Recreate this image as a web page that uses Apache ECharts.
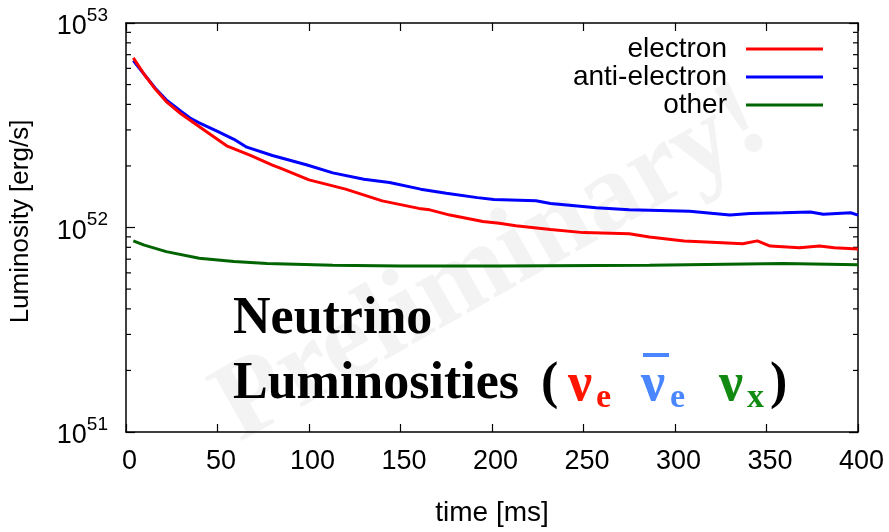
<!DOCTYPE html>
<html>
<head>
<meta charset="utf-8">
<script src="https://cdn.jsdelivr.net/npm/echarts@6/dist/echarts.min.js"></script>
<style>
  html, body { margin: 0; padding: 0; background: #fff; }
  #chart { width: 889px; height: 532px; }
</style>
</head>
<body>
<div id="chart"></div>
<script>
// Neutrino luminosities vs. post-bounce time (erg/s)
const electronTime = [4, 10, 16, 22, 30, 37, 45, 55, 68, 80, 85, 100, 120, 140, 160, 166, 177, 186, 195, 204, 213, 232, 250, 275, 286, 305, 323, 337, 345, 352, 368, 379, 387, 400];
const electronLum  = [6.75e52, 5.6e52, 4.75e52, 4.13e52, 3.6e52, 3.25e52, 2.9e52, 2.51e52, 2.25e52, 2.02e52, 1.94e52, 1.71e52, 1.54e52, 1.35e52, 1.24e52, 1.22e52, 1.15e52, 1.11e52, 1.07e52, 1.05e52, 1.02e52, 9.78e51, 9.44e51, 9.33e51, 8.99e51, 8.6e51, 8.45e51, 8.32e51, 8.6e51, 8.11e51, 7.96e51, 8.11e51, 7.96e51, 7.85e51];

const antiTime = [4, 10, 16, 22, 30, 35, 40, 50, 59, 66, 80, 99, 113, 130, 144, 161, 175, 192, 201, 224, 232, 257, 275, 308, 330, 341, 359, 374, 381, 396, 400];
const antiLum  = [6.55e52, 5.6e52, 4.8e52, 4.21e52, 3.7e52, 3.43e52, 3.25e52, 2.95e52, 2.7e52, 2.47e52, 2.25e52, 2.02e52, 1.85e52, 1.72e52, 1.66e52, 1.54e52, 1.47e52, 1.4e52, 1.37e52, 1.35e52, 1.31e52, 1.25e52, 1.22e52, 1.2e52, 1.15e52, 1.17e52, 1.18e52, 1.19e52, 1.16e52, 1.18e52, 1.15e52];

const otherTime = [4, 10, 22, 40, 59, 77, 113, 150, 204, 286, 359, 400];
const otherLum  = [8.6e51, 8.2e51, 7.62e51, 7.08e51, 6.82e51, 6.67e51, 6.53e51, 6.48e51, 6.48e51, 6.53e51, 6.66e51, 6.58e51];

const decades = [1e51, 1e52];
const mantissas = [2, 3, 4, 5, 6, 7, 8, 9];

const seriesNames = ['electron', 'anti-electron', 'other'];
const seriesColors = ['#ff0000', '#0000ff', '#006400'];

const SANS = '"Liberation Sans", Arial, Helvetica, sans-serif';
const SERIF = '"Liberation Serif", "Times New Roman", serif';

function pairs(ts, vs) { return ts.map((t, i) => [t, vs[i]]); }

const minorTickValues = [];
decades.forEach(d => mantissas.forEach(m => minorTickValues.push([0, m * d])));

const chart = echarts.init(document.getElementById('chart'), null, { renderer: 'canvas' });

const labelRich = {
  b: { fontFamily: SANS, fontSize: 27, color: '#000', lineHeight: 34, padding: [8, 0, 0, 0] },
  s: { fontFamily: SANS, fontSize: 19, color: '#000', verticalAlign: 'top', lineHeight: 20 }
};
function powLabel(v) {
  const e = Math.round(Math.log10(v));
  return '{b|10}{s|' + e + '}';
}

const axisLineStyle = { color: '#000', width: 1.5 };
const tickStyle = { color: '#000', width: 1.2 };

// title pieces: text, x, top, size, colour
function titleText(text, x, y, size, color) {
  return {
    type: 'text', z: 10, x: x, y: y, silent: true,
    style: { text: text, fontFamily: SERIF, fontSize: size, fontWeight: 'bold', fill: color }
  };
}
const RED = '#ff1500', LBLUE = '#4a86ff', GREEN = '#128a12';
const T1 = 294, T2 = 359, SUB = T2 + 22;

chart.setOption({
  animation: false,
  backgroundColor: '#fff',
  grid: { left: 126, right: 31, top: 23, bottom: 91, containLabel: false },
  legend: {
    data: seriesNames,
    orient: 'vertical',
    right: 61,
    top: 30,
    align: 'right',
    icon: 'rect',
    itemWidth: 77,
    itemHeight: 3,
    itemGap: 0,
    textStyle: { fontFamily: SANS, fontSize: 28, color: '#000', padding: [0, 14, 0, 0], lineHeight: 28 }
  },
  xAxis: [{
    type: 'value',
    min: 0, max: 400, interval: 50,
    name: 'time [ms]',
    nameLocation: 'middle',
    nameGap: 67,
    nameTextStyle: { fontFamily: SANS, fontSize: 28, color: '#000' },
    axisLine: { show: true, lineStyle: axisLineStyle },
    axisTick: { show: true, inside: true, length: 8, lineStyle: tickStyle },
    axisLabel: { fontFamily: SANS, fontSize: 27, color: '#000', margin: 16, padding: [0, 0, 0, 7] },
    splitLine: { show: false }
  }, {
    type: 'value',
    position: 'top',
    min: 0, max: 400, interval: 50,
    axisLine: { show: true, onZero: false, lineStyle: axisLineStyle },
    axisTick: { show: true, inside: true, length: 8, lineStyle: tickStyle },
    axisLabel: { show: false },
    splitLine: { show: false }
  }],
  yAxis: [{
    type: 'log',
    logBase: 10,
    min: 1e51, max: 1e53,
    name: 'Luminosity [erg/s]',
    nameLocation: 'middle',
    nameGap: 92,
    nameTextStyle: { fontFamily: SANS, fontSize: 26, color: '#000', padding: [0, 0, 0, 12] },
    axisLine: { show: true, lineStyle: axisLineStyle },
    axisTick: { show: true, inside: true, length: 9, lineStyle: tickStyle },
    axisLabel: { formatter: powLabel, rich: labelRich, margin: 18 },
    splitLine: { show: false }
  }, {
    type: 'log',
    logBase: 10,
    position: 'right',
    min: 1e51, max: 1e53,
    axisLine: { show: true, onZero: false, lineStyle: axisLineStyle },
    axisTick: { show: true, inside: true, length: 9, lineStyle: tickStyle },
    axisLabel: { show: false },
    splitLine: { show: false }
  }],
  graphic: [
    {
      type: 'text',
      z: -10,
      x: 492, y: 266,
      rotation: 29.5 * Math.PI / 180,
      silent: true,
      style: {
        text: 'Preliminary!',
        fontFamily: SERIF,
        fontSize: 112,
        fontWeight: 'bold',
        fill: '#f3f3f3',
        align: 'center',
        verticalAlign: 'middle'
      }
    },
    titleText('Neutrino', 233, T1, 52, '#000'),
    titleText('Luminosities', 233, T2, 52, '#000'),
    titleText('(', 541, T2, 52, '#000'),
    titleText('ν', 568, T2, 54, RED),
    titleText('e', 596, SUB, 34, RED),
    titleText('ν', 641, T2, 54, LBLUE),
    titleText('e', 670, SUB, 34, LBLUE),
    {
      type: 'rect', z: 10, silent: true,
      shape: { x: 643, y: T2 - 6, width: 26, height: 4 },
      style: { fill: LBLUE }
    },
    titleText('ν', 719, T2, 54, GREEN),
    titleText('x', 747, SUB, 34, GREEN),
    titleText(')', 770, T2, 52, '#000')
  ],
  series: [{
    name: 'electron',
    type: 'line',
    data: pairs(electronTime, electronLum),
    showSymbol: false,
    lineStyle: { color: seriesColors[0], width: 3 },
    itemStyle: { color: seriesColors[0] },
    z: 4
  }, {
    name: 'anti-electron',
    type: 'line',
    data: pairs(antiTime, antiLum),
    showSymbol: false,
    lineStyle: { color: seriesColors[1], width: 3 },
    itemStyle: { color: seriesColors[1] },
    z: 3
  }, {
    name: 'other',
    type: 'line',
    data: pairs(otherTime, otherLum),
    showSymbol: false,
    lineStyle: { color: seriesColors[2], width: 3 },
    itemStyle: { color: seriesColors[2] },
    z: 3
  }, {
    // minor log ticks on the left and right frame edges
    name: 'minor-ticks',
    type: 'custom',
    silent: true,
    data: minorTickValues,
    renderItem: function (params, api) {
      const y = api.coord([0, api.value(1)])[1];
      const cs = params.coordSys;
      const st = { stroke: '#000', lineWidth: 1.2 };
      return {
        type: 'group',
        children: [
          { type: 'line', shape: { x1: cs.x, y1: y, x2: cs.x + 5, y2: y }, style: st },
          { type: 'line', shape: { x1: cs.x + cs.width - 5, y1: y, x2: cs.x + cs.width, y2: y }, style: st }
        ]
      };
    }
  }]
});
</script>
</body>
</html>
